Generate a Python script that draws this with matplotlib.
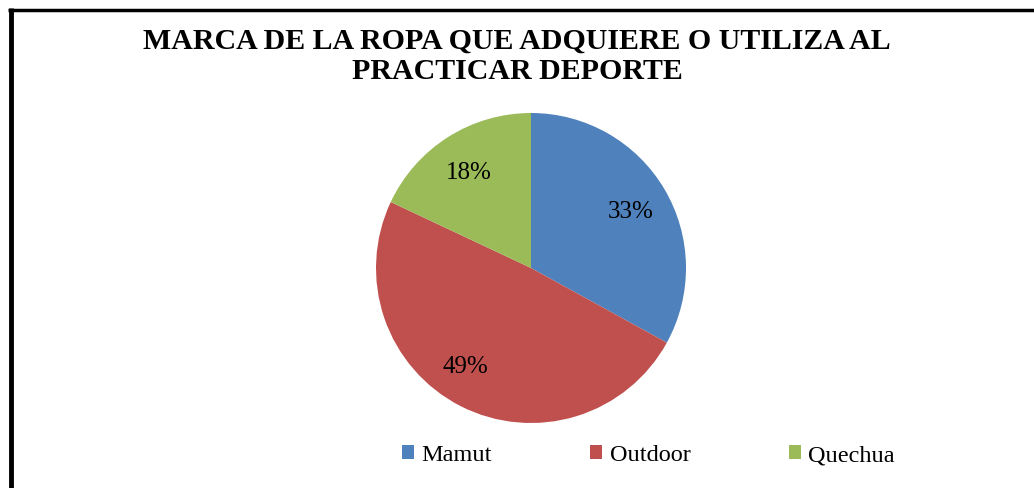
import numpy as np
import matplotlib.pyplot as plt
from matplotlib.lines import Line2D

labels = ["Mamut", "Outdoor", "Quechua"]
values = [33, 49, 18]
colors = ["#4F81BD", "#C0504D", "#9BBB59"]
title = "MARCA DE LA ROPA QUE ADQUIERE O UTILIZA AL\nPRACTICAR DEPORTE"

plt.rcParams["font.family"] = ["Liberation Serif", "DejaVu Serif"]

W, H = 1034, 489
fig = plt.figure(figsize=(W / 100, H / 100), dpi=100)
fig.set_facecolor("white")

# pie centred at (531, 269) px, radius 155 px
cx, cy, r = 531, 269, 155
ax = fig.add_axes([(cx - r) / W, (H - cy - r) / H, 2 * r / W, 2 * r / H])
wedges, _, autotexts = ax.pie(values, colors=colors, startangle=90, counterclock=False,
                              autopct="%d%%", pctdistance=0.75, radius=1,
                              wedgeprops=dict(linewidth=0),
                              textprops=dict(fontsize=18, color="black"))
# Excel "best fit" nudges the big slice label a little further round
ang = np.deg2rad(-124.5)
autotexts[1].set_position((0.75 * np.cos(ang), 0.75 * np.sin(ang)))
for t in autotexts:
    t.set_va("center_baseline")
ax.set_xlim(-1, 1)
ax.set_ylim(-1, 1)
ax.set_aspect("equal")

fig.text(0.500, 1 - 28 / H, title, ha="center", va="top", fontsize=21.5,
         fontweight="bold", linespacing=1.13)

fig.legend(wedges, labels, loc="center", bbox_to_anchor=(0.627, 1 - 456 / H),
           ncol=3, frameon=False, fontsize=17.5, handlelength=0.5, handleheight=0.5,
           handletextpad=0.3, columnspacing=4.05, borderpad=0)

# partial black border (top and left)
fig.add_artist(Line2D([8 / W, 1], [1 - 10.5 / H] * 2, color="black", lw=2.5,
                      transform=fig.transFigure, solid_capstyle="butt"))
fig.add_artist(Line2D([10.5 / W] * 2, [0, 1 - 9 / H], color="black", lw=3.5,
                      transform=fig.transFigure, solid_capstyle="butt"))

fig.savefig("out.png", dpi=100)
